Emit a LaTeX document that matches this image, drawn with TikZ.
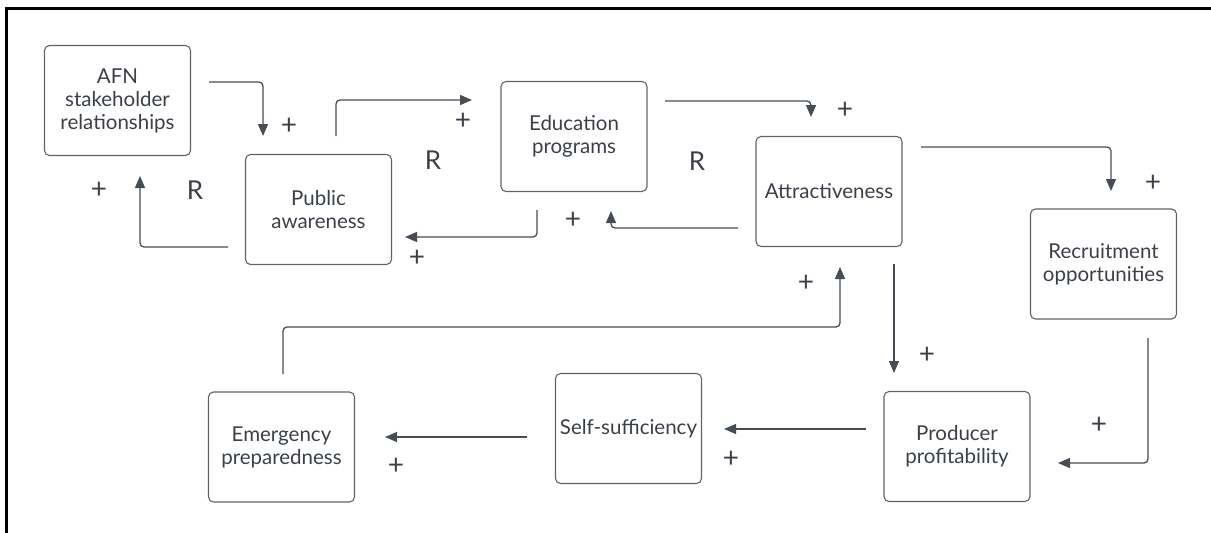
\documentclass[tikz,border=0pt]{standalone}
\usepackage{fontspec}
\setmainfont{Lato}
\usetikzlibrary{arrows.meta}
\definecolor{txt}{HTML}{3B4048}
\definecolor{boxc}{HTML}{5F646B}
\definecolor{linec}{HTML}{474D55}
\begin{document}
\begin{tikzpicture}[x=1pt,y=-1pt,
 box/.style={draw=boxc, line width=1.1pt, rounded corners=5pt, minimum width=146pt, minimum height=110pt, align=center, font=\fontsize{20.5}{23}\selectfont, text=txt, inner sep=0pt},
 conn/.style={draw=linec, line width=1.3pt, rounded corners=4pt, -{Triangle[length=12pt,width=10pt]}},
 sign/.style={font=\fontsize{28}{28}\selectfont, text=txt, inner sep=0pt},
 loopl/.style={font=\fontsize{26}{26}\selectfont, text=txt, inner sep=0pt}]
\useasboundingbox (0,0) rectangle (1211,533);
\draw[line width=2.5pt] (6.5,533) -- (6.5,8.5) -- (1211,8.5);

\node[box] (afn) at (117.5,100.5) {AFN\\stakeholder\\relationships};
\node[box] (pub) at (318.5,209.5) {Public\\awareness};
\node[box] (edu) at (574,136.5) {Education\\programs};
\node[box] (att) at (829,191.5) {Attractiveness};
\node[box] (rec) at (1103.5,264) {Recruitment\\opportunities};
\node[box] (emg) at (281.5,447) {Emergency\\preparedness};
\node[box] (self) at (628.5,428.5) {Self-sufficiency};
\node[box] (prod) at (957,446.5) {Producer\\profitability};

\coordinate (a1s) at (209,82);   \coordinate (a1e) at (263,136);
\coordinate (a2s) at (228,247);  \coordinate (a2e) at (140,176);
\coordinate (a3s) at (336,136);  \coordinate (a3e) at (472,100);
\coordinate (a4s) at (665,101);  \coordinate (a4e) at (811,117);
\coordinate (a5s) at (738,228);  \coordinate (a5e) at (611,211);
\coordinate (a6s) at (537,210);  \coordinate (a6e) at (405,237);
\coordinate (a7s) at (921,147);  \coordinate (a7e) at (1111,191);
\coordinate (a8s) at (894,264);  \coordinate (a8e) at (894,373);
\coordinate (a9s) at (283,374);  \coordinate (a9m) at (840,327); \coordinate (a9e) at (840,267);
\coordinate (a10s) at (1148,338); \coordinate (a10e) at (1058,463);
\coordinate (a11s) at (866,429); \coordinate (a11e) at (724,429);
\coordinate (a12s) at (527,437); \coordinate (a12e) at (385,437);

\draw[conn] (a1s) -| (a1e);
\draw[conn] (a2s) -| (a2e);
\draw[conn] (a3s) |- (a3e);
\draw[conn] (a4s) -| (a4e);
\draw[conn] (a5s) -| (a5e);
\draw[conn] (a6s) |- (a6e);
\draw[conn] (a7s) -| (a7e);
\draw[conn] (a8s) -- (a8e);
\draw[conn] (a9s) |- (a9m) -- (a9e);
\draw[conn] (a10s) |- (a10e);
\draw[conn] (a11s) -- (a11e);
\draw[conn] (a12s) -- (a12e);

\node[sign] (p1) at (289,126) {+};
\node[sign] (p2) at (99,190) {+};
\node[sign] (p3) at (463,121) {+};
\node[sign] (p4) at (845,110) {+};
\node[sign] (p5) at (573,220) {+};
\node[sign] (p6) at (417,258) {+};
\node[sign] (p7) at (1153,183) {+};
\node[sign] (p8) at (927,355) {+};
\node[sign] (p9) at (806,283) {+};
\node[sign] (p10) at (1099,425) {+};
\node[sign] (p11) at (731,459) {+};
\node[sign] (p12) at (396,466) {+};

\node[loopl] (r1) at (195,190) {R};
\node[loopl] (r2) at (433,160) {R};
\node[loopl] (r3) at (697,161) {R};
\end{tikzpicture}
\end{document}
